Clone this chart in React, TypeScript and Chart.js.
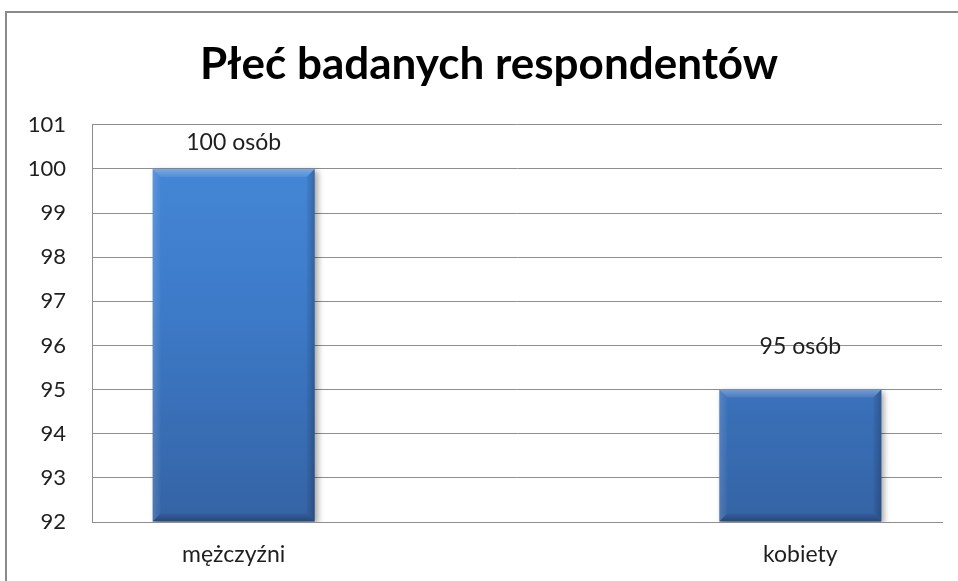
import { useEffect, useRef } from 'react';
import { Chart, registerables } from 'chart.js';

Chart.register(...registerables);

// Survey data: respondents by sex
const chartTitle = 'Płeć badanych respondentów';
const categories = ['mężczyźni', 'kobiety'];
const respondents = [100, 95];
const unitLabel = 'osób';
const yMin = 92;
const yMax = 101;

const FONT = 'Lato, "Open Sans", "DejaVu Sans", sans-serif';
const TEXT = '#1f1f1f';
const GRID = '#8e8e8e';

// Grey frame around the chart object; title centred over the framed area
const framePlugin = {
  id: 'frame',
  afterLayout(chart: any) {
    if (chart.titleBlock) chart.titleBlock.left = 36;
  },
  beforeDraw(chart: any) {
    const { ctx, width, height } = chart;
    ctx.save();
    ctx.strokeStyle = '#8a8a8a';
    ctx.lineWidth = 2;
    ctx.beginPath();
    ctx.moveTo(6, height + 5);
    ctx.lineTo(6, 12);
    ctx.lineTo(width + 5, 12);
    ctx.stroke();
    ctx.restore();
  },
};

// Drop shadow, bevelled edges and value labels on the bars
const bevelPlugin = {
  id: 'bevel',
  beforeDatasetDraw(chart: any) {
    const ctx = chart.ctx;
    ctx.save();
    ctx.shadowColor = 'rgba(0,0,0,0.35)';
    ctx.shadowBlur = 6;
    ctx.shadowOffsetX = 3;
    ctx.shadowOffsetY = 2;
  },
  afterDatasetDraw(chart: any) {
    chart.ctx.restore();
  },
  afterDatasetsDraw(chart: any, _args: any, opts: any) {
    const ctx = chart.ctx;
    const area = chart.chartArea;
    const gaps: number[] = opts.labelGaps || [];
    chart.getDatasetMeta(0).data.forEach((bar: any, i: number) => {
      const { x, y, base, width } = bar.getProps(['x', 'y', 'base', 'width'], true);
      const l = x - width / 2;
      const r = x + width / 2;
      const t = Math.max(y, area.top);
      const b = Math.min(base, area.bottom);
      const d = 8;
      const poly = (pts: number[][], fill: string | CanvasGradient) => {
        ctx.beginPath();
        ctx.moveTo(pts[0][0], pts[0][1]);
        for (let k = 1; k < pts.length; k++) ctx.lineTo(pts[k][0], pts[k][1]);
        ctx.closePath();
        ctx.fillStyle = fill;
        ctx.fill();
      };
      ctx.save();
      const topG = ctx.createLinearGradient(0, t, 0, t + d);
      topG.addColorStop(0, 'rgba(255,255,255,0.30)');
      topG.addColorStop(1, 'rgba(255,255,255,0.08)');
      poly([[l, t], [r, t], [r - d, t + d], [l + d, t + d]], topG);
      const leftG = ctx.createLinearGradient(l, 0, l + d, 0);
      leftG.addColorStop(0, 'rgba(255,255,255,0.14)');
      leftG.addColorStop(1, 'rgba(255,255,255,0.02)');
      poly([[l, t], [l + d, t + d], [l + d, b - d], [l, b]], leftG);
      const rightG = ctx.createLinearGradient(r - d, 0, r, 0);
      rightG.addColorStop(0, 'rgba(0,0,0,0.04)');
      rightG.addColorStop(1, 'rgba(0,0,0,0.22)');
      poly([[r, t], [r, b], [r - d, b - d], [r - d, t + d]], rightG);
      const botG = ctx.createLinearGradient(0, b - d, 0, b);
      botG.addColorStop(0, 'rgba(0,0,0,0.06)');
      botG.addColorStop(1, 'rgba(0,0,0,0.28)');
      poly([[l, b], [l + d, b - d], [r - d, b - d], [r, b]], botG);

      ctx.fillStyle = TEXT;
      ctx.font = `23px ${FONT}`;
      ctx.textAlign = 'center';
      ctx.textBaseline = 'middle';
      ctx.fillText(`${respondents[i]} ${unitLabel}`, x, y - (gaps[i] ?? 28));
      ctx.restore();
    });
  },
};

export default function App() {
  const canvasRef = useRef<HTMLCanvasElement | null>(null);

  useEffect(() => {
    const canvas = canvasRef.current;
    if (!canvas) return;
    const chart = new Chart(canvas, {
      type: 'bar',
      data: {
        datasets: [
          {
            data: respondents.map((v, i) => ({ x: i, y: v })),
            base: yMin,
            backgroundColor: (c: any) => {
              const area = c.chart.chartArea;
              if (!area) return '#3d7bc8';
              const g = c.chart.ctx.createLinearGradient(0, area.top, 0, area.bottom);
              g.addColorStop(0, '#4689d9');
              g.addColorStop(0.45, '#3d7bc9');
              g.addColorStop(1, '#3563a5');
              return g;
            },
            borderWidth: 0,
            barPercentage: 0.286,
            categoryPercentage: 1,
          } as any,
        ],
      },
      options: {
        animation: false,
        responsive: false,
        events: [],
        layout: { padding: { left: 0, right: 16, top: 0, bottom: 0 } },
        plugins: {
          legend: { display: false },
          tooltip: { enabled: false },
          title: {
            display: true,
            text: chartTitle,
            color: '#000',
            font: { family: FONT, size: 44, weight: 'bold' },
            padding: { top: 38, bottom: 34 },
          },
          bevel: { labelGaps: [26, 43] },
        } as any,
        scales: {
          x: {
            type: 'linear',
            min: -0.25,
            max: 1.25,
            offset: false,
            afterBuildTicks: (s: any) => {
              s.ticks = categories.map((_, i) => ({ value: i }));
            },
            afterFit: (s: any) => {
              s.height = 59;
            },
            ticks: {
              callback: (v: any) => categories[v as number] ?? '',
              color: TEXT,
              font: { family: FONT, size: 23 },
              padding: 19,
              maxRotation: 0,
            },
            grid: { display: false, drawTicks: false },
            border: { display: true, color: GRID },
          },
          y: {
            min: yMin,
            max: yMax,
            afterFit: (s: any) => {
              s.width = 92;
            },
            ticks: {
              stepSize: 1,
              color: TEXT,
              font: { family: FONT, size: 22 },
              padding: 26,
            },
            grid: { color: GRID, drawTicks: false },
            border: { display: true, color: GRID },
          },
        },
      },
      plugins: [framePlugin, bevelPlugin],
    } as any);
    return () => chart.destroy();
  }, []);

  return (
    <div style={{ position: 'fixed', left: 0, top: 0, width: 958, height: 581, background: '#fff' }}>
      <canvas ref={canvasRef} width={958} height={581} />
    </div>
  );
}
